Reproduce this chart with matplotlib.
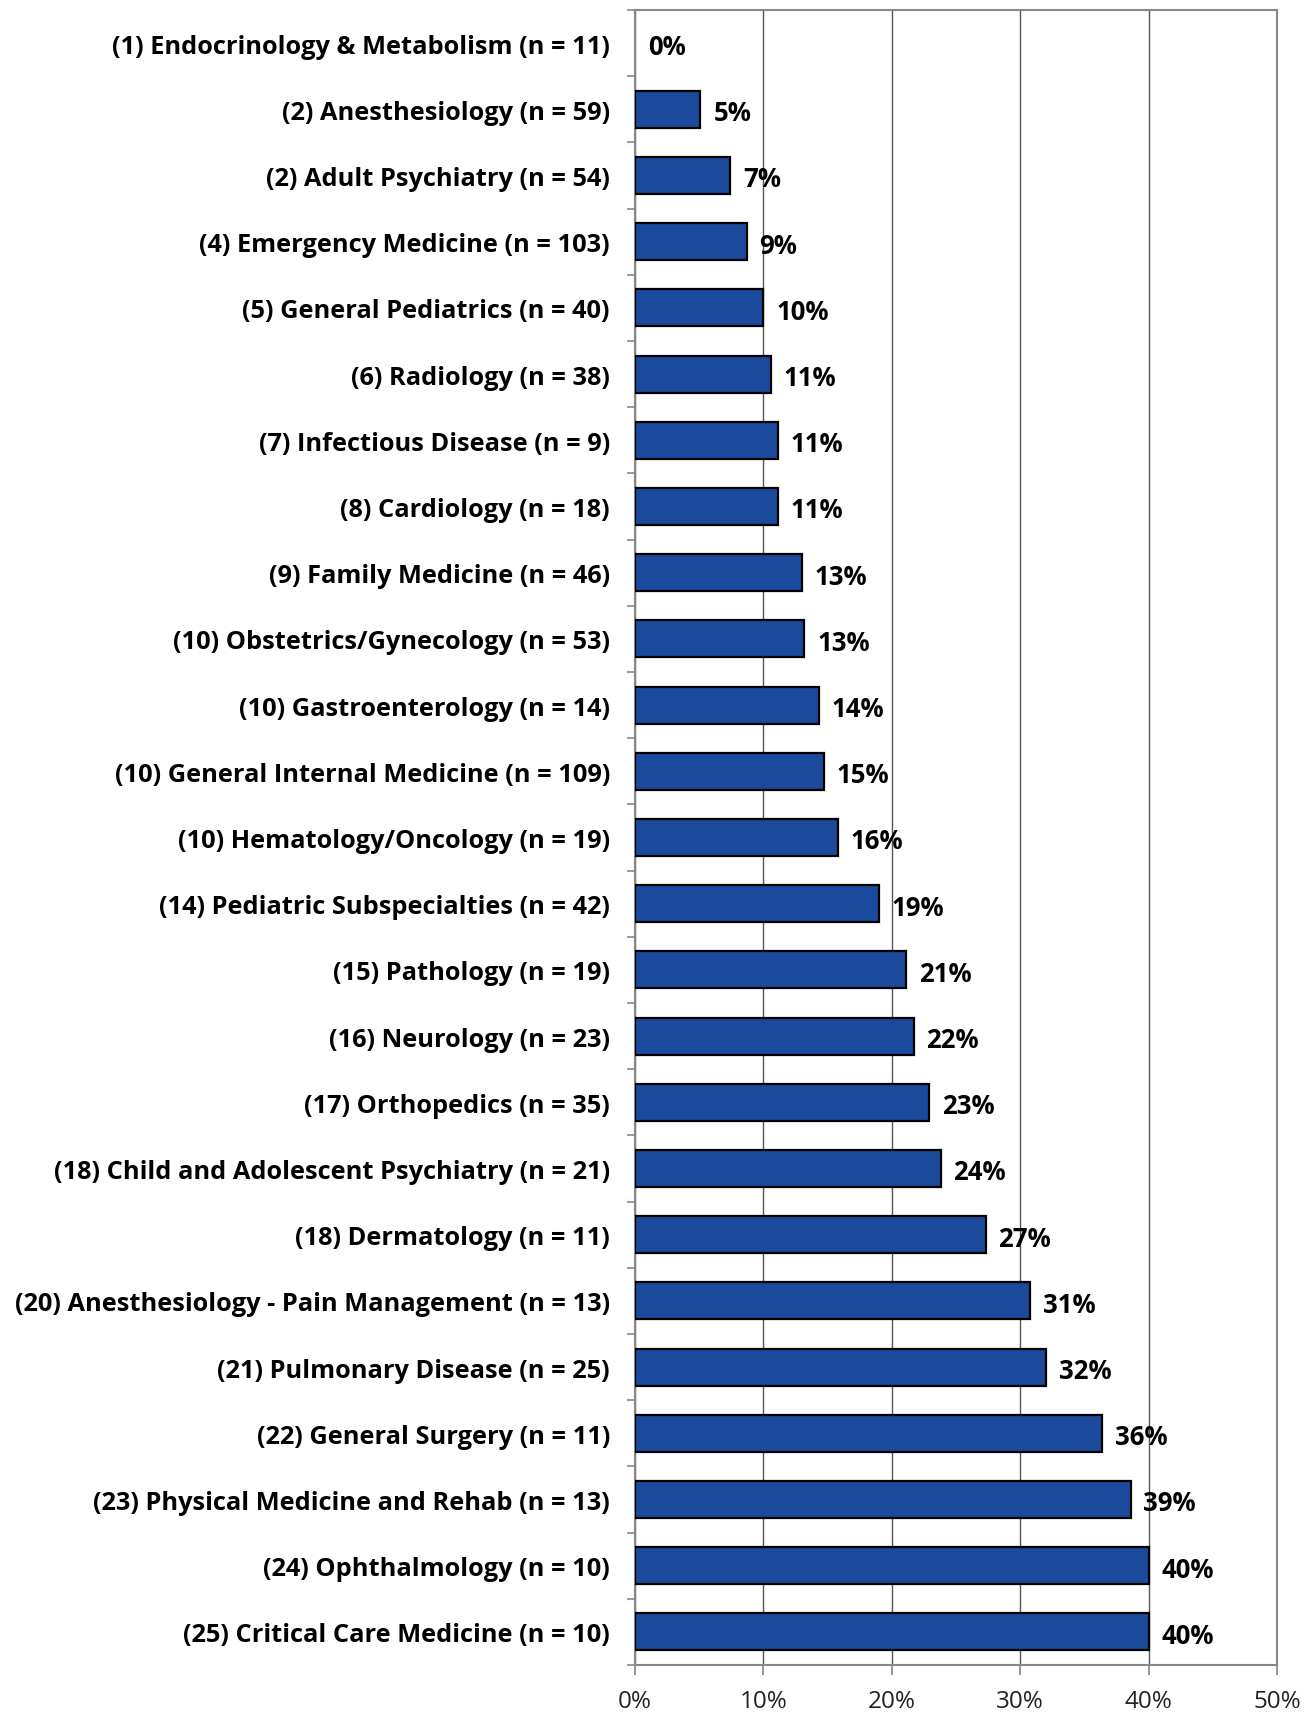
import numpy as np
import matplotlib.pyplot as plt

specialties = [
    '(1) Endocrinology & Metabolism (n = 11)',
    '(2) Anesthesiology (n = 59)',
    '(2) Adult Psychiatry (n = 54)',
    '(4) Emergency Medicine (n = 103)',
    '(5) General Pediatrics (n = 40)',
    '(6) Radiology (n = 38)',
    '(7) Infectious Disease (n = 9)',
    '(8) Cardiology (n = 18)',
    '(9) Family Medicine (n = 46)',
    '(10) Obstetrics/Gynecology (n = 53)',
    '(10) Gastroenterology (n = 14)',
    '(10) General Internal Medicine (n = 109)',
    '(10) Hematology/Oncology (n = 19)',
    '(14) Pediatric Subspecialties (n = 42)',
    '(15) Pathology (n = 19)',
    '(16) Neurology (n = 23)',
    '(17) Orthopedics (n = 35)',
    '(18) Child and Adolescent Psychiatry (n = 21)',
    '(18) Dermatology (n = 11)',
    '(20) Anesthesiology - Pain Management (n = 13)',
    '(21) Pulmonary Disease (n = 25)',
    '(22) General Surgery (n = 11)',
    '(23) Physical Medicine and Rehab (n = 13)',
    '(24) Ophthalmology (n = 10)',
    '(25) Critical Care Medicine (n = 10)',
]

# percent
percents = [0.0, 5.1, 7.4, 8.7, 10.0, 10.6, 11.1, 11.1, 13.0, 13.2, 14.3, 14.7,
            15.8, 19.0, 21.1, 21.7, 22.9, 23.8, 27.3, 30.8, 32.0, 36.4, 38.6,
            40.0, 40.0]

x_ticks = [0, 10, 20, 30, 40, 50]

plt.rcParams['font.family'] = ['Open Sans', 'DejaVu Sans']

fig = plt.figure(figsize=(13.07, 17.15), dpi=100)
ax = fig.add_axes([635 / 1307, 1 - 1666 / 1715, (1277 - 635) / 1307, (1666 - 11) / 1715])

y = np.arange(len(specialties))
edges = ['black' if p > 0 else 'none' for p in percents]
ax.barh(y, percents, height=0.56, color='#1B4A9C', edgecolor=edges,
        linewidth=1.6, zorder=3)

for yi, p in zip(y, percents):
    ax.text(p + 1.0, yi + 0.05, f'{p:.0f}%', va='center', ha='left',
            fontsize=18.5, fontweight='bold', color='black', zorder=4)

ax.set_xlim(0, 50)
ax.set_ylim(len(specialties) - 0.5, -0.5)
ax.set_xticks(x_ticks)
ax.set_xticklabels([f'{t}%' for t in x_ticks], fontsize=17.5, color='#222222')
ax.xaxis.grid(True, color='#555555', linewidth=1.0, zorder=0)

ax.set_yticks(y)
ax.set_yticklabels(specialties, fontsize=18.3, fontweight='bold')
ax.set_yticks(np.arange(len(specialties) + 1) - 0.5, minor=True)
ax.tick_params(axis='y', which='major', length=0, pad=18)
ax.tick_params(axis='y', which='minor', length=6, color='#888888', width=1.2)
ax.tick_params(axis='x', length=7, color='#888888', width=1.2, pad=10)

for side in ['left', 'bottom', 'top', 'right']:
    ax.spines[side].set_color('#888888')
    ax.spines[side].set_linewidth(1.5)

fig.savefig('out.png', dpi=100)
